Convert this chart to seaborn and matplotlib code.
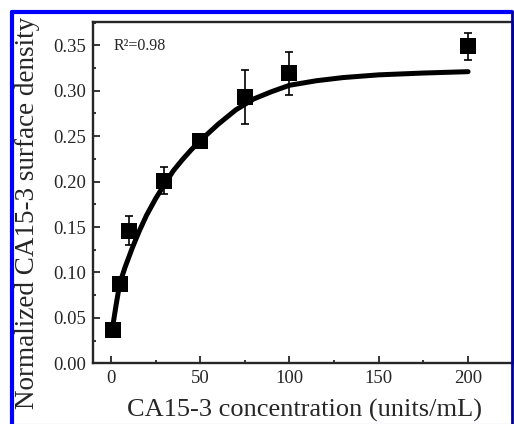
import numpy as np
import pandas as pd
import seaborn as sns
import matplotlib.pyplot as plt
from matplotlib.lines import Line2D
from matplotlib.ticker import MultipleLocator

# measured points
conc = [1, 5, 10, 30, 50, 75, 100, 200]
density = [0.037, 0.087, 0.146, 0.201, 0.245, 0.293, 0.319, 0.349]
density_err = [0.0, 0.0, 0.016, 0.015, 0.004, 0.030, 0.024, 0.015]

# fitted curve
fit_x = [1, 3, 5, 8, 12, 16, 20, 25, 30, 35, 40, 45, 50, 60, 70, 80, 90, 100, 115, 130, 150, 175, 200]
fit_y = [0.040, 0.065, 0.088, 0.106, 0.127, 0.146, 0.163, 0.181, 0.197, 0.212, 0.224, 0.235, 0.245,
         0.263, 0.279, 0.291, 0.299, 0.306, 0.311, 0.3145, 0.3175, 0.3195, 0.321]

x_ticks = [0, 50, 100, 150, 200]
y_ticks = [0.00, 0.05, 0.10, 0.15, 0.20, 0.25, 0.30, 0.35]

sns.set_style("ticks")
plt.rcParams['font.family'] = ['Liberation Serif', 'DejaVu Serif']

fig = plt.figure(figsize=(5.14, 4.24), dpi=100)
ax = fig.add_axes([93 / 514, 1 - 363.3 / 424, (512.7 - 93) / 514, (363.3 - 21.7) / 424])

df = pd.DataFrame({"conc": conc, "density": density})
fit = pd.DataFrame({"x": fit_x, "y": fit_y})

sns.lineplot(data=fit, x="x", y="y", ax=ax, color="black", linewidth=3.6, sort=False, zorder=2)
ax.errorbar(conc, density, yerr=density_err, fmt='none', ecolor='black', elinewidth=1.2,
            capsize=2.9, capthick=1.2, zorder=3)
sns.scatterplot(data=df, x="conc", y="density", ax=ax, marker='s', s=125, color="black",
                linewidth=0, zorder=4)

ax.set_xlim(-10, 225)
ax.set_ylim(0, 0.376)
ax.set_xticks(x_ticks)
ax.set_yticks(y_ticks)
ax.set_yticklabels([f"{v:.2f}" for v in y_ticks])
ax.xaxis.set_minor_locator(MultipleLocator(25))
ax.yaxis.set_minor_locator(MultipleLocator(0.025))
ax.tick_params(which='major', direction='in', length=5, width=1.3, labelsize=13.5, pad=5,
               top=False, right=False)
ax.tick_params(which='minor', direction='in', length=2.5, width=1.3, top=False, right=False)

for sp in ax.spines.values():
    sp.set_visible(True)
    sp.set_linewidth(1.7)

ax.set_xlabel("CA15-3 concentration (units/mL)", fontsize=19)
ax.set_ylabel("Normalized CA15-3 surface density", fontsize=19.5)
ax.xaxis.label.set_va('center')
ax.yaxis.label.set_va('center')
ax.xaxis.set_label_coords(0.505, -0.137)
ax.yaxis.set_label_coords(-0.157, 0.44)

ax.text(0.05, 0.93, "R²=0.98", transform=ax.transAxes, fontsize=11.5, va='center', ha='left')

# blue frame around the figure
blue = "#0000ff"
fig.add_artist(Line2D([12 / 514, 512 / 514], [1 - 12 / 424, 1 - 12 / 424], color=blue, linewidth=3,
                      transform=fig.transFigure))
fig.add_artist(Line2D([12 / 514, 12 / 514], [1 - 12 / 424, 0], color=blue, linewidth=3,
                      transform=fig.transFigure))
fig.add_artist(Line2D([512 / 514, 512 / 514], [1 - 12 / 424, 0], color="#000099", linewidth=2,
                      transform=fig.transFigure))
fig.add_artist(Line2D([12 / 514, 512 / 514], [0.5 / 424, 0.5 / 424], color="#9090ff", linewidth=0.8,
                      transform=fig.transFigure))

fig.savefig("out.png", dpi=100)
